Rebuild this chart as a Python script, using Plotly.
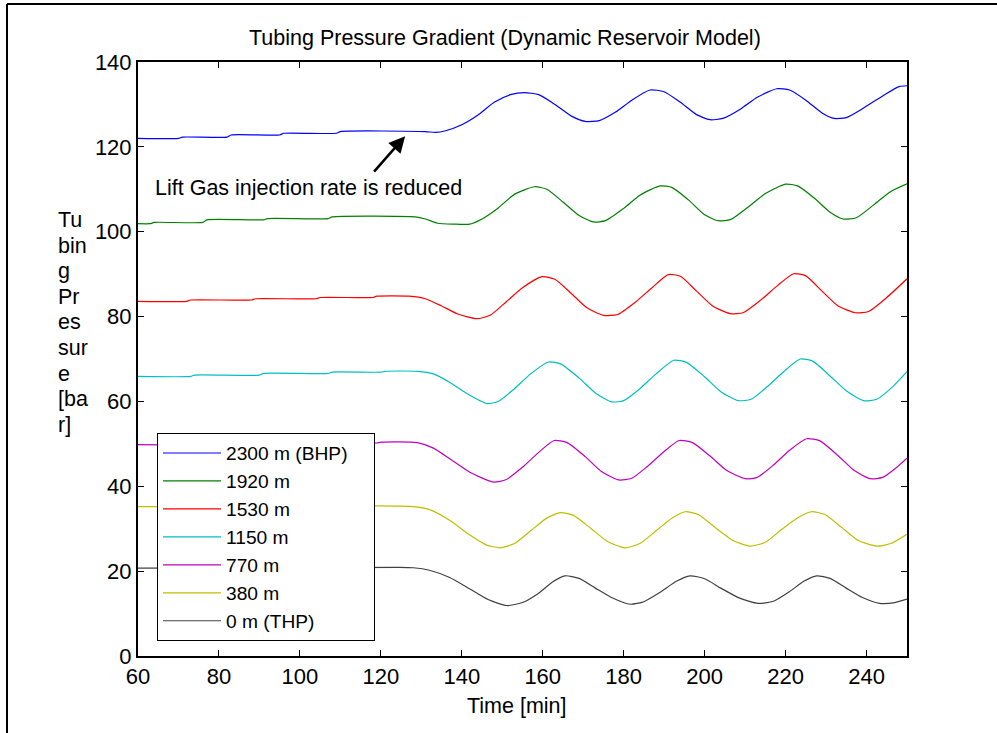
import plotly.graph_objects as go

# Tubing pressure at different depths (time [min], pressure [bar])
t_2300 = [60, 70, 71, 82, 83, 95, 96, 109, 110, 131, 133.5, 136, 140, 144, 148, 152, 155.5, 159, 163, 167,
          170.5, 174, 178, 182, 186.5, 190, 194, 198, 201.3, 204.5, 209, 213, 217.8, 221, 225, 229, 232, 235,
          239, 244, 248, 250]
p_2300 = [122.0, 122.0, 122.3, 122.3, 122.8, 122.8, 123.2, 123.2, 123.6, 123.6, 123.4, 123.8, 125.2, 127.5,
          130.5, 132.3, 132.8, 132.3, 130.0, 127.3, 126.0, 126.2, 128.2, 131.0, 133.4, 133.0, 130.5, 127.6,
          126.4, 126.7, 129.0, 131.7, 133.7, 133.4, 131.0, 128.0, 126.7, 126.9, 129.0, 132.0, 134.2, 134.4]

t_1920 = [60, 63, 64, 76, 77, 91, 92, 107, 108, 128.5, 131, 134, 138, 142, 145, 149, 153, 158, 161, 165,
          169, 172.5, 175.5, 180, 184, 189, 192, 196, 200, 203.3, 206.5, 211, 215, 220, 223, 227, 231, 234.2,
          237.5, 242, 246, 250]
p_1920 = [101.9, 101.9, 102.2, 102.2, 102.8, 102.8, 103.1, 103.1, 103.5, 103.5, 103.0, 102.0, 101.8, 101.8,
          103.0, 105.6, 108.8, 110.6, 110.0, 107.0, 103.8, 102.3, 102.6, 105.5, 108.6, 110.8, 110.4, 107.5,
          104.0, 102.6, 102.9, 106.0, 109.0, 111.2, 110.8, 108.0, 104.6, 103.0, 103.3, 106.5, 109.5, 111.3]

t_1530 = [60, 72, 73, 88, 89, 104, 105, 118, 119, 127, 131, 135, 139, 143.7, 147, 151, 155, 159.8, 163, 167,
          171, 175, 178.5, 183, 187, 191, 194, 198, 202, 206.3, 209.5, 214, 218, 222, 225, 229, 233, 237.2,
          240.5, 245, 250]
p_1530 = [83.6, 83.6, 83.9, 83.9, 84.2, 84.2, 84.5, 84.5, 84.8, 84.8, 84.2, 82.5, 80.6, 79.5, 80.3, 83.5,
          86.8, 89.4, 88.8, 85.5, 82.0, 80.3, 80.5, 83.5, 86.8, 89.9, 89.5, 86.0, 82.5, 80.7, 80.9, 84.0, 87.3,
          90.1, 89.6, 86.0, 82.5, 80.9, 81.2, 84.5, 88.9]

t_1150 = [60, 73, 74, 90, 91, 107, 108, 120, 121, 129, 133, 137, 141, 146.2, 149, 153, 157, 161.4, 164.5,
          169, 173, 177, 180, 184, 188, 192.4, 195.5, 200, 204, 208.3, 211.5, 215.5, 219.5, 223.6, 226.7, 231,
          235, 239.2, 242.5, 246.5, 250]
p_1150 = [65.9, 65.9, 66.2, 66.2, 66.6, 66.6, 66.9, 66.9, 67.1, 67.1, 66.5, 64.5, 62.0, 59.5, 60.0, 63.0,
          66.5, 69.3, 68.8, 65.5, 62.0, 59.9, 60.2, 63.0, 66.5, 69.7, 69.2, 65.8, 62.3, 60.2, 60.5, 63.5, 67.0,
          70.0, 69.5, 66.0, 62.5, 60.2, 60.5, 63.5, 67.0]

t_770 = [60, 84, 85, 104, 105, 119, 120, 129, 133, 137, 142, 147.8, 151, 155, 159, 162.8, 166, 170.5, 174.5,
         178.7, 182, 186, 190, 193.7, 197, 201.5, 205.5, 210, 213, 217, 221, 225.2, 228.5, 233, 237, 240.9,
         244, 247.5, 250]
p_770 = [49.8, 49.8, 50.0, 50.0, 50.2, 50.2, 50.4, 50.3, 49.0, 46.5, 43.3, 41.0, 41.6, 44.5, 48.0, 50.8, 50.3,
         47.0, 43.5, 41.5, 41.9, 44.8, 48.2, 50.8, 50.3, 47.0, 43.7, 41.8, 42.1, 45.0, 48.5, 51.2, 50.7, 47.2,
         43.7, 41.8, 42.1, 44.5, 46.6]

t_380 = [60, 128, 132, 137, 142, 146, 149.5, 153, 157, 161, 164.3, 167.5, 172, 176, 180.3, 184, 188, 192,
         195.2, 198.5, 203, 207, 211.2, 215, 219, 223, 226.4, 229.6, 234, 238, 242.5, 246, 250]
p_380 = [35.2, 35.2, 34.5, 32.0, 28.5, 26.2, 25.5, 26.5, 29.5, 32.5, 33.8, 33.2, 30.0, 27.0, 25.5, 26.5, 29.5,
         32.5, 34.0, 33.3, 30.0, 27.2, 25.9, 26.8, 29.8, 32.6, 34.0, 33.4, 30.2, 27.2, 25.9, 26.5, 28.7]

t_0 = [60, 124.7, 128, 132, 137, 142, 146.5, 151.1, 155, 159, 162.5, 165.5, 169, 173, 177, 181.6, 185, 189,
       193, 196.4, 200, 204, 208.5, 213.2, 217, 221, 224.5, 227.7, 231, 235, 239, 243.3, 247, 250]
p_0 = [20.7, 20.9, 20.8, 20.2, 18.5, 15.8, 13.3, 11.9, 12.6, 14.8, 17.5, 18.9, 18.3, 16.0, 13.8, 12.2, 12.8,
       15.0, 17.6, 18.9, 18.2, 16.0, 13.7, 12.4, 12.9, 15.2, 17.6, 18.9, 18.3, 16.0, 13.8, 12.4, 12.6, 13.4]

names = ["2300 m (BHP)", "1920 m", "1530 m", "1150 m", "770 m", "380 m", "0 m (THP)"]
times = [t_2300, t_1920, t_1530, t_1150, t_770, t_380, t_0]
pressures = [p_2300, p_1920, p_1530, p_1150, p_770, p_380, p_0]
colors = ["#0000ff", "#008000", "#ff0000", "#00bfbf", "#bf00bf", "#bfbf00", "#404040"]

x_ticks = list(range(60, 250, 20))
y_ticks = list(range(0, 141, 20))

# y label is wrapped into short pieces, as in the original
ylabel_parts = ["Tu", "bin", "g", "Pr", "es", "sur", "e", "[ba", "r]"]

# plot area in pixels (997x733 page)
L, R, T, B = 138, 907, 62, 656
W, H = 997, 733


def px(x):
    return (x - L) / (R - L)


def py(y):
    return (B - y) / (B - T)


fig = go.Figure()
for i, (name, t, p, c) in enumerate(zip(names, times, pressures, colors)):
    # pad the first entry so the legend box gets its wider look
    label = name + "\u00a0" * 4 if i == 0 else name
    fig.add_trace(go.Scatter(x=t, y=p, mode="lines", name=label,
                             line=dict(color=c, width=1.2, shape="spline", smoothing=0.6)))

FAMILY = "Liberation Sans, Arial, sans-serif"
font = dict(family=FAMILY, size=21.5, color="black")
tick_font = dict(family=FAMILY, size=22, color="black")

axis_style = dict(showline=True, linecolor="black", linewidth=2, mirror="allticks",
                  ticks="inside", ticklen=6, tickwidth=1, tickcolor="black",
                  showgrid=False, zeroline=False, tickfont=tick_font)

fig.update_xaxes(range=[60, 250], tickvals=x_ticks, **axis_style)
fig.update_yaxes(range=[0, 140], tickvals=y_ticks, **axis_style)

fig.update_layout(
    width=W, height=H,
    margin=dict(l=L, r=W - R, t=T, b=H - B),
    paper_bgcolor="white", plot_bgcolor="white",
    font=font,
    showlegend=True,
    legend=dict(x=px(157), y=py(433), xanchor="left", yanchor="top",
                bgcolor="white", bordercolor="black", borderwidth=1,
                font=dict(family=FAMILY, size=19.2, color="black"),
                itemwidth=58, tracegroupgap=0),
)

# title, axis labels
fig.add_annotation(text="Tubing Pressure Gradient (Dynamic Reservoir Model)", xref="paper", yref="paper",
                   x=px(505), y=py(38), showarrow=False, font=font, xanchor="center", yanchor="middle")
fig.add_annotation(text="Time [min]", xref="paper", yref="paper", x=px(517), y=py(706),
                   showarrow=False, font=font, xanchor="center", yanchor="middle")
for k, part in enumerate(ylabel_parts):
    fig.add_annotation(text=part, xref="paper", yref="paper", x=px(56), y=py(220 + 25.6 * k),
                       showarrow=False, font=font, xanchor="left", yanchor="middle")

# note and arrow
fig.add_annotation(text="Lift Gas injection rate is reduced", x=63.6, y=110.4, xref="x", yref="y",
                   showarrow=False, font=font, xanchor="left", yanchor="middle")
fig.add_annotation(x=126.0, y=122.5, ax=118.0, ay=113.8, xref="x", yref="y", axref="x", ayref="y",
                   text="", showarrow=True, arrowhead=2, arrowsize=1.3, arrowwidth=2.5, arrowcolor="black")

# outer figure frame (top and left edges visible)
fig.add_shape(type="line", xref="paper", yref="paper", x0=px(7), x1=px(1010), y0=py(4), y1=py(4),
              line=dict(color="black", width=2))
fig.add_shape(type="line", xref="paper", yref="paper", x0=px(7), x1=px(7), y0=py(4), y1=py(745),
              line=dict(color="black", width=2))

fig.write_html("out.html", config={"displayModeBar": False},
               post_script="document.body.style.margin='0';")
